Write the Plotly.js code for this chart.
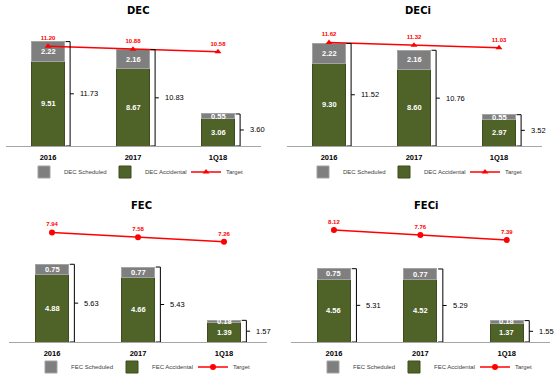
<!DOCTYPE html>
<html>
<head>
<meta charset="utf-8">
<script src="https://cdn.plot.ly/plotly-3.0.1.min.js"></script>
<style>html,body{margin:0;padding:0;background:#fff;}#chart{width:556px;height:375px;}</style>
</head>
<body>
<div id="chart"></div>
<script>
// ---- data ----
var categories = ['2016', '2017', '1Q18'];

var decScheduled = [2.22, 2.16, 0.55];
var decAccidental = [9.51, 8.67, 3.06];
var decTarget = [11.20, 10.88, 10.58];
var decTotal = [11.73, 10.83, 3.60];

var deciScheduled = [2.22, 2.16, 0.55];
var deciAccidental = [9.30, 8.60, 2.97];
var deciTarget = [11.62, 11.32, 11.03];
var deciTotal = [11.52, 10.76, 3.52];

var fecScheduled = [0.75, 0.77, 0.18];
var fecAccidental = [4.88, 4.66, 1.39];
var fecTarget = [7.94, 7.58, 7.26];
var fecTotal = [5.63, 5.43, 1.57];

var feciScheduled = [0.75, 0.77, 0.18];
var feciAccidental = [4.56, 4.52, 1.37];
var feciTarget = [8.12, 7.76, 7.39];
var feciTotal = [5.31, 5.29, 1.55];

var panels = [
  {title: 'DEC', sched: decScheduled, acc: decAccidental, target: decTarget, total: decTotal,
   schedName: 'DEC Scheduled', accName: 'DEC Accidental', symbol: 'triangle-up'},
  {title: 'DECi', sched: deciScheduled, acc: deciAccidental, target: deciTarget, total: deciTotal,
   schedName: 'DEC Scheduled', accName: 'DEC Accidental', symbol: 'triangle-up'},
  {title: 'FEC', sched: fecScheduled, acc: fecAccidental, target: fecTarget, total: fecTotal,
   schedName: 'FEC Scheduled', accName: 'FEC Accidental', symbol: 'circle'},
  {title: 'FECi', sched: feciScheduled, acc: feciAccidental, target: feciTarget, total: feciTotal,
   schedName: 'FEC Scheduled', accName: 'FEC Accidental', symbol: 'circle'}
];

// ---- layout geometry ----
var W = 556, H = 375;
var FONT = 'Liberation Sans, Arial, sans-serif';
var GREEN = '#4f6228', GREEN_LINE = '#3e4d1f';
var GRAY = '#7f7f7f', GRAY_LINE = '#a3a3a3';
var RED = '#ff0000';
var BW = 0.38;

var geo = [
  {x0: 5.5, x1: 260.5, base: 146, top: 20, ymax: 14.16, legX: 24, legY: 172, entry: 36, titleX: 138, titleY: 11},
  {x0: 286.5, x1: 541.5, base: 146, top: 20, ymax: 14.16, legX: 303, legY: 172, entry: 36, titleX: 418, titleY: 11},
  {x0: 9, x1: 267, base: 342, top: 215, ymax: 9.2, legX: 31, legY: 367, entry: 36, titleX: 141, titleY: 205},
  {x0: 290.75, x1: 550, base: 342, top: 215, ymax: 9.2, legX: 313, legY: 367, entry: 36, titleX: 426, titleY: 205}
];

var traces = [];
var layout = {
  width: W, height: H,
  margin: {l: 0, r: 0, t: 0, b: 0, autoexpand: false},
  paper_bgcolor: '#fff', plot_bgcolor: 'rgba(0,0,0,0)',
  barmode: 'stack',
  hovermode: false,
  font: {family: FONT, size: 7, color: '#000'},
  annotations: [],
  shapes: []
};

panels.forEach(function (p, k) {
  var g = geo[k];
  var n = k === 0 ? '' : String(k + 1);
  var xa = 'x' + n, ya = 'y' + n;
  var legName = 'legend' + n;
  var xs = categories.map(function (c, i) { return i; });

  traces.push({
    type: 'bar', x: xs, y: p.acc, xaxis: xa, yaxis: ya, width: BW,
    name: p.accName, legend: legName, legendrank: 2,
    marker: {color: GREEN, line: {color: GREEN_LINE, width: 1}},
    textposition: 'none', hoverinfo: 'skip'
  });
  traces.push({
    type: 'bar', x: xs, y: p.sched, xaxis: xa, yaxis: ya, width: BW,
    name: p.schedName, legend: legName, legendrank: 1,
    marker: {color: GRAY, line: {color: GRAY_LINE, width: 1}},
    textposition: 'none', hoverinfo: 'skip'
  });
  traces.push({
    type: 'scatter', mode: 'lines+markers+text', x: xs, y: p.target, xaxis: xa, yaxis: ya,
    name: 'Target', legend: legName, legendrank: 3,
    line: {color: RED, width: 1.5},
    marker: {color: RED, size: 6, symbol: p.symbol},
    text: p.target.map(function (v) { return v.toFixed(2); }),
    textposition: 'top center',
    textfont: {color: RED, size: 6, family: FONT, weight: 'bold'},
    hoverinfo: 'skip'
  });

  var bx = [], by = [];
  p.total.forEach(function (t, i) {
    var a = i + BW / 2 + 0.016, b = i + BW / 2 + 0.07, c = i + BW / 2 + 0.114;
    bx.push(a, b, b, a, null, b, c, null);
    by.push(t, t, 0, 0, null, t / 2, t / 2, null);
    layout.annotations.push({
      xref: xa, yref: ya, x: i + BW / 2 + 0.16, y: t / 2, text: t.toFixed(2),
      showarrow: false, xanchor: 'left', yanchor: 'middle',
      font: {family: FONT, size: 7.5, color: '#000'}
    });
    layout.annotations.push({
      xref: xa, yref: ya, x: i, y: p.acc[i] / 2, text: p.acc[i].toFixed(2),
      showarrow: false, xanchor: 'center', yanchor: 'middle',
      font: {family: FONT, size: 7.5, color: '#fff', weight: 'bold'}
    });
    layout.annotations.push({
      xref: xa, yref: ya, x: i, y: p.acc[i] + p.sched[i] / 2, text: p.sched[i].toFixed(2),
      showarrow: false, xanchor: 'center', yanchor: 'middle',
      font: {family: FONT, size: 7.5, color: '#fff', weight: 'bold'}
    });
  });
  traces.push({
    type: 'scatter', mode: 'lines', x: bx, y: by, xaxis: xa, yaxis: ya,
    showlegend: false, hoverinfo: 'skip', connectgaps: false,
    line: {color: '#000', width: 1}
  });

  layout['xaxis' + n] = {
    domain: [g.x0 / W, g.x1 / W], range: [-0.5, 2.5], anchor: ya,
    tickmode: 'array', tickvals: xs, ticktext: categories,
    showgrid: false, zeroline: false, showline: true, linecolor: '#a6a6a6', linewidth: 1,
    ticks: 'outside', ticklen: 4, tickcolor: 'rgba(0,0,0,0)',
    tickfont: {family: FONT, size: 7.5, color: '#000', weight: 'bold'},
    fixedrange: true, automargin: false
  };
  layout['yaxis' + n] = {
    domain: [1 - g.base / H, 1 - g.top / H], range: [0, g.ymax], anchor: xa,
    showgrid: false, zeroline: false, showline: false, showticklabels: false, ticks: '',
    fixedrange: true, automargin: false
  };
  layout[legName] = {
    orientation: 'h', x: g.legX / W, y: 1 - g.legY / H, xanchor: 'left', yanchor: 'middle',
    font: {family: FONT, size: 6, color: '#404040'}, bgcolor: 'rgba(0,0,0,0)',
    traceorder: 'normal', entrywidth: g.entry, entrywidthmode: 'pixels',
    itemwidth: 30, tracegroupgap: 0
  };
  layout.annotations.push({
    xref: 'paper', yref: 'paper', x: g.titleX / W, y: 1 - g.titleY / H, text: p.title,
    showarrow: false, xanchor: 'center', yanchor: 'middle',
    font: {family: 'DejaVu Sans, Verdana, sans-serif', size: 10, color: '#000', weight: 'bold'}
  });
});

Plotly.newPlot('chart', traces, layout, {displayModeBar: false, staticPlot: true});
</script>
</body>
</html>
